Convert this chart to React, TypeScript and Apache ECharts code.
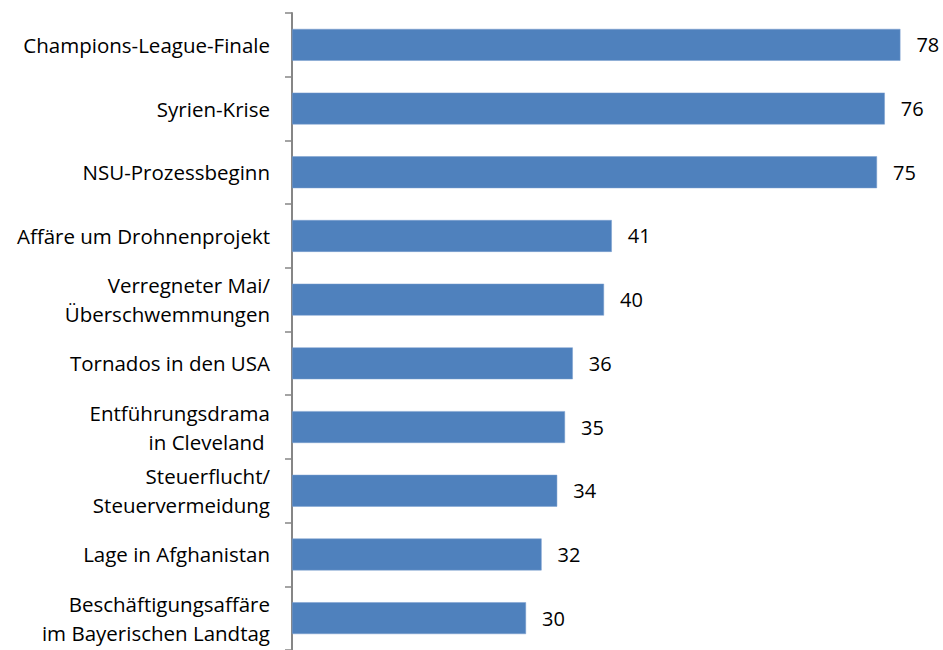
import React, { useEffect, useRef } from "react";
import * as echarts from "echarts";

const categories: string[] = [
  "Champions-League-Finale",
  "Syrien-Krise",
  "NSU-Prozessbeginn",
  "Affäre um Drohnenprojekt",
  "Verregneter Mai/\nÜberschwemmungen",
  "Tornados in den USA",
  "Entführungsdrama\nin Cleveland ",
  "Steuerflucht/\nSteuervermeidung",
  "Lage in Afghanistan",
  "Beschäftigungsaffäre\nim Bayerischen Landtag",
];
const values: number[] = [78, 76, 75, 41, 40, 36, 35, 34, 32, 30];

const FONT = "'Open Sans', 'Noto Sans', sans-serif";

export default function App() {
  const ref = useRef<HTMLDivElement>(null);
  useEffect(() => {
    if (!ref.current) return;
    const chart = echarts.init(ref.current, undefined, { renderer: "svg" });
    chart.setOption({
      animation: false,
      backgroundColor: "#ffffff",
      grid: { left: 292, right: 27, top: 13, height: 642, containLabel: false },
      xAxis: {
        type: "value",
        min: 0,
        max: 80,
        show: false,
      },
      yAxis: {
        type: "category",
        inverse: true,
        data: categories,
        axisLine: { show: true, lineStyle: { color: "#868686", width: 2 } },
        axisTick: { show: true, length: 7, lineStyle: { color: "#868686", width: 1.5 } },
        axisLabel: {
          margin: 22,
          color: "#000000",
          fontFamily: FONT,
          fontSize: 20.5,
          lineHeight: 29,
          align: "right",
        },
        splitLine: { show: false },
      },
      series: [
        {
          type: "bar",
          data: values,
          barWidth: "50%",
          itemStyle: { color: "#4F81BD", borderColor: "#7A9FCF", borderWidth: 0.5 },
          label: {
            show: true,
            position: "right",
            distance: 16,
            color: "#000000",
            fontFamily: FONT,
            fontSize: 20,
          },
        },
      ],
    });
    return () => chart.dispose();
  }, []);
  return (
    <div
      ref={ref}
      style={{ position: "absolute", left: 0, top: 0, width: 943, height: 650 }}
    />
  );
}
